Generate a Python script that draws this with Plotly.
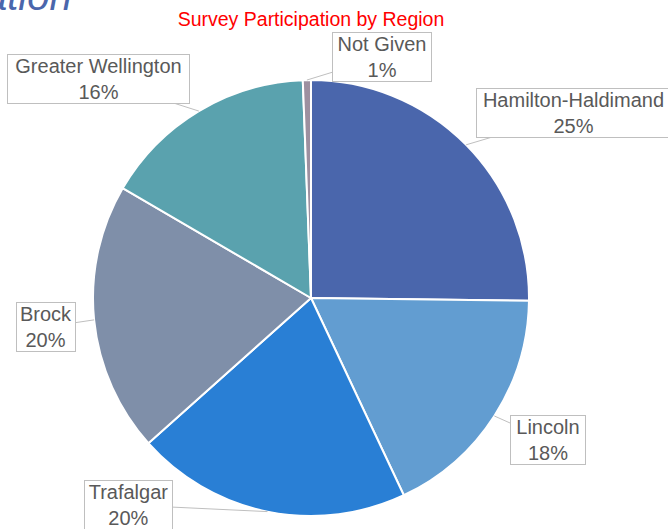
import math
import plotly.graph_objects as go

regions = ["Hamilton-Haldimand", "Lincoln", "Trafalgar", "Brock", "Greater Wellington", "Not Given"]
shares = [25.2, 17.8, 20.4, 20.0, 16.0, 0.6]
pct_labels = ["25%", "18%", "20%", "20%", "16%", "1%"]
colors = ["#4A66AC", "#629DD1", "#297FD5", "#7F8FA9", "#5AA2AE", "#9D90A0"]
# label box centres and widths in pixels (layout)
label_px = [(573, 113), (548, 440), (128, 505), (46, 327), (98, 79), (382, 57)]
label_w = [193, 74, 87, 58, 181, 98]

W, H = 668, 529
cx, cy, R = 311, 298, 218

fig = go.Figure()
fig.add_trace(go.Pie(
    labels=regions, values=shares, sort=False, direction="clockwise", rotation=0,
    marker=dict(colors=colors, line=dict(color="white", width=2)),
    textinfo="none", hoverinfo="label+percent", showlegend=False,
    domain=dict(x=[(cx - R) / W, (cx + R) / W], y=[1 - (cy + R) / H, 1 - (cy - R) / H]),
))

total = sum(shares)
cum = 0
annotations = []
for name, v, pl, (lx, ly), bw in zip(regions, shares, pct_labels, label_px, label_w):
    mid = (cum + v / 2) / total * 2 * math.pi
    cum += v
    tx = cx + R * math.sin(mid)
    ty = cy - R * math.cos(mid)
    annotations.append(dict(
        x=tx / W, y=1 - ty / H, xref="paper", yref="paper",
        text=f"{name}<br>{pl}", showarrow=True, arrowhead=0, arrowwidth=1,
        arrowcolor="#BFBFBF", ax=lx - tx, ay=ly - ty, standoff=0,
        font=dict(family="Liberation Sans, Arial, sans-serif", size=20, color="#595959"),
        bgcolor="white", bordercolor="#BFBFBF", borderwidth=1, borderpad=0,
        width=bw, height=48, align="center", valign="middle",
    ))

annotations.append(dict(
    x=74 / W, y=1 - 20 / H, xref="paper", yref="paper", showarrow=False,
    xanchor="right", yanchor="bottom",
    text="<i>ation</i>",
    font=dict(family="Liberation Sans, Arial, sans-serif", size=40, color="#4A66AC"),
))

fig.update_layout(
    width=W, height=H, margin=dict(l=0, r=0, t=0, b=0),
    paper_bgcolor="white", plot_bgcolor="white",
    title=dict(text="Survey Participation by Region", x=311 / W, xanchor="center",
               y=1 - 19 / H, yanchor="middle", yref="container",
               font=dict(family="Liberation Sans, Arial, sans-serif", size=19.5, color="#FF0000")),
    annotations=annotations,
)
fig.write_html("out.html", config={"displayModeBar": False},
               post_script="document.body.style.margin='0';")
